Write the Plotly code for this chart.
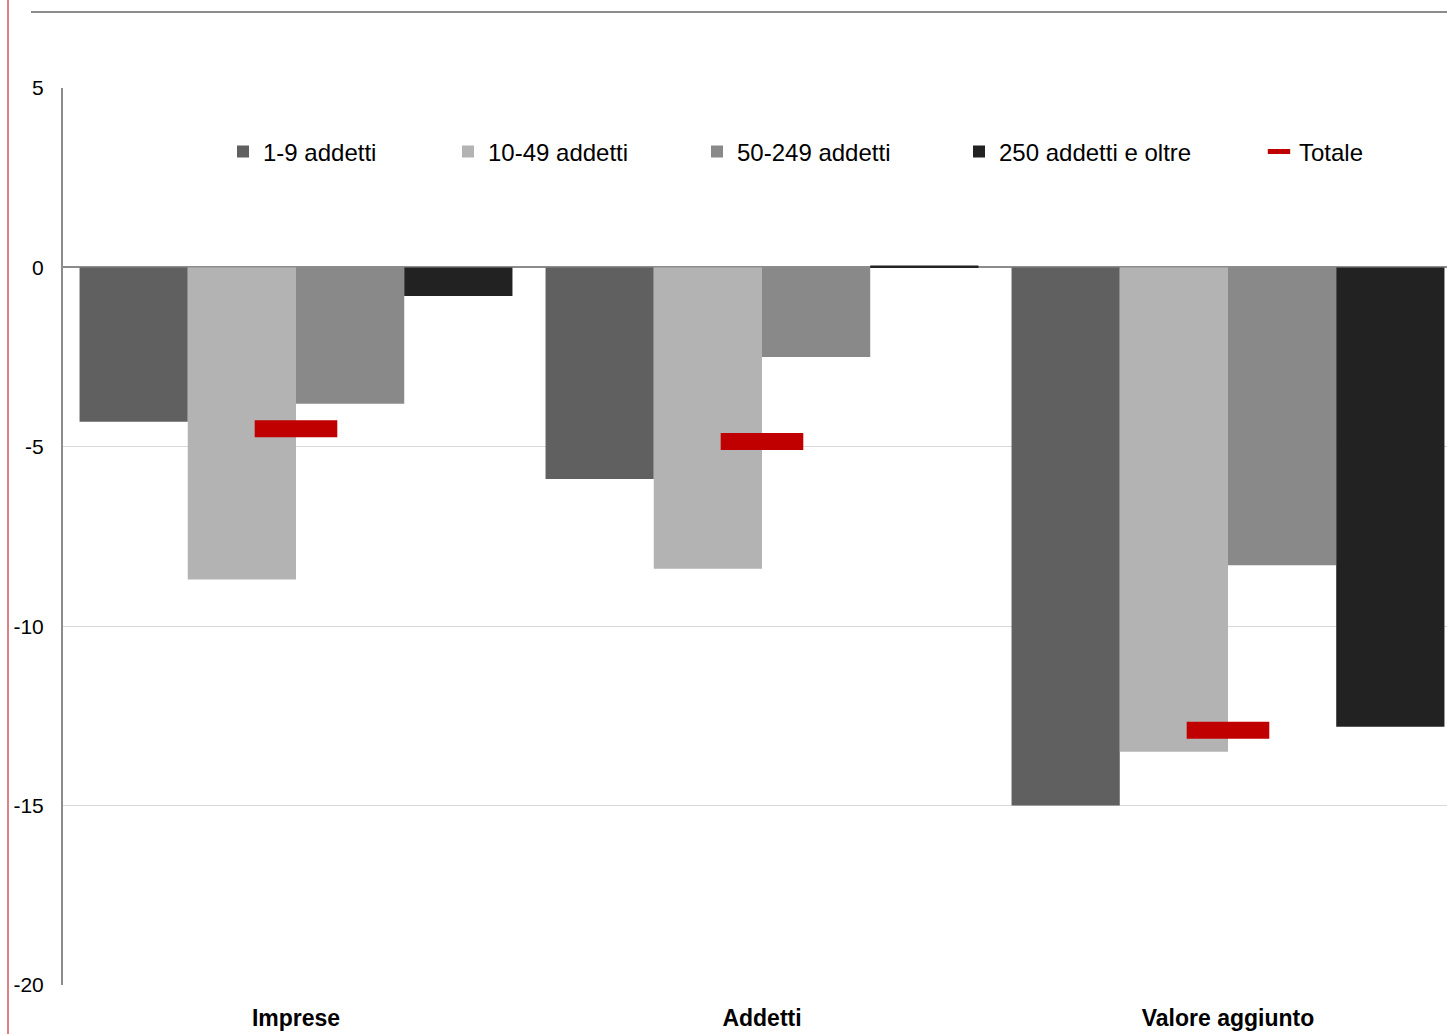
import plotly.graph_objects as go

# Variazioni percentuali per classe di addetti
categorie = ["Imprese", "Addetti", "Valore aggiunto"]
classi = ["1-9 addetti", "10-49 addetti", "50-249 addetti", "250 addetti e oltre"]
v_1_9 = [-4.3, -5.9, -15.0]
v_10_49 = [-8.7, -8.4, -13.5]
v_50_249 = [-3.8, -2.5, -8.3]
v_250_oltre = [-0.8, 0.05, -12.8]
totale = [-4.5, -4.85, -12.9]

y_ticks = [-20, -15, -10, -5, 0, 5]
y_ticktext = ["-20", "-15", "-10", "-5", "0", "5"]

colori = ["#606060", "#B3B3B3", "#898989", "#222222"]
rosso = "#C00000"
FONT = "Liberation Sans, Arial, sans-serif"

W, H = 1447, 1034
ML, MR, MT, MB = 63, 0, 88, 49
pw = W - ML - MR
cat_px = 466  # larghezza di ciascuna categoria in pixel

# legend item left edges in pixels
leg_px = [223, 448, 697, 959, 1259]
leg_names = ["legend", "legend2", "legend3", "legend4", "legend5"]

fig = go.Figure()
for i, (nome, vals) in enumerate(zip(classi, [v_1_9, v_10_49, v_50_249, v_250_oltre])):
    fig.add_trace(go.Bar(
        x=categorie, y=vals, name=nome,
        marker=dict(color=colori[i], line=dict(width=0)),
        legend=leg_names[i],
    ))

fig.add_trace(go.Scatter(
    x=categorie, y=totale, name="Totale", mode="markers",
    marker=dict(symbol="line-ew", size=59, color=rosso,
                line=dict(color=rosso, width=17)),
    legend=leg_names[4],
))

legend_layouts = {}
for name, px in zip(leg_names, leg_px):
    legend_layouts[name] = dict(
        x=(px - ML) / pw, xanchor="left",
        y=(H - MB - 152) / (H - MT - MB), yanchor="middle",
        bgcolor="rgba(0,0,0,0)", borderwidth=0,
        font=dict(family=FONT, size=24, color="#000000"),
        orientation="h",
    )

fig.update_layout(
    width=W, height=H,
    margin=dict(l=ML, r=MR, t=MT, b=MB, pad=0),
    paper_bgcolor="white", plot_bgcolor="white",
    barmode="group", bargap=0.071, bargroupgap=0,
    showlegend=True,
    **legend_layouts,
    xaxis=dict(
        range=[-0.5, -0.5 + pw / cat_px],
        showgrid=False, showline=False, ticks="",
        tickfont=dict(family=FONT, size=23, color="#000000", weight="bold"),
        ticklabelstandoff=17,
    ),
    yaxis=dict(
        range=[-20, 5], tickvals=y_ticks, ticktext=y_ticktext,
        showgrid=True, gridcolor="#D9D9D9", gridwidth=1,
        zeroline=True, zerolinecolor="#8C8C8C", zerolinewidth=2,
        showline=True, linecolor="#8C8C8C", linewidth=2,
        ticks="", ticklabelstandoff=13,
        tickfont=dict(family=FONT, size=21, color="#000000"),
    ),
    shapes=[
        # cornice esterna: filo rosso a sinistra e filetto grigio in alto
        dict(type="line", xref="paper", yref="paper",
             x0=(8 - ML) / pw, x1=(8 - ML) / pw, y0=-MB / (H - MT - MB), y1=1 + MT / (H - MT - MB),
             line=dict(color=rosso, width=1)),
        dict(type="line", xref="paper", yref="paper",
             x0=(31 - ML) / pw, x1=1, y0=1 + (MT - 12) / (H - MT - MB), y1=1 + (MT - 12) / (H - MT - MB),
             line=dict(color="#8C8C8C", width=2)),
    ],
)

fig.write_html("out.html")
